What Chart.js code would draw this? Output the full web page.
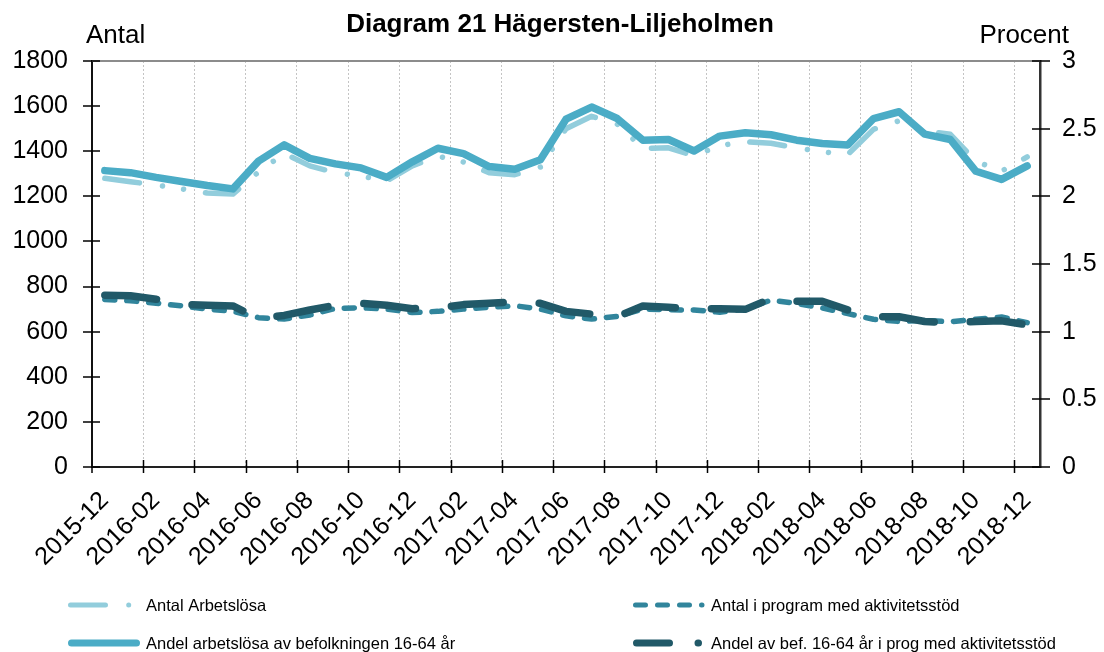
<!DOCTYPE html>
<html>
<head>
<meta charset="utf-8">
<style>
  html, body { margin: 0; padding: 0; background: #fff; }
  canvas { display: block; }
</style>
<script src="https://cdn.jsdelivr.net/npm/chart.js@4/dist/chart.umd.min.js"></script>
</head>
<body>
<canvas id="chart" width="1104" height="652"></canvas>
<script>
// months on the x axis
const months = [
  "2015-12", "2016-01", "2016-02", "2016-03", "2016-04", "2016-05", "2016-06", "2016-07",
  "2016-08", "2016-09", "2016-10", "2016-11", "2016-12", "2017-01", "2017-02", "2017-03",
  "2017-04", "2017-05", "2017-06", "2017-07", "2017-08", "2017-09", "2017-10", "2017-11",
  "2017-12", "2018-01", "2018-02", "2018-03", "2018-04", "2018-05", "2018-06", "2018-07",
  "2018-08", "2018-09", "2018-10", "2018-11", "2018-12"
];

// left axis (Antal)
const antalArbetslosa = [
  1280, 1265, 1250, 1233, 1215, 1210, 1308, 1390, 1335, 1305, 1290, 1268, 1335, 1378, 1352, 1305,
  1296, 1330, 1500, 1555, 1520, 1413, 1415, 1380, 1425, 1442, 1435, 1415, 1397, 1386, 1497, 1535,
  1490, 1475, 1355, 1312, 1375
];
const antalProgram = [
  743, 737, 726, 714, 700, 690, 662, 656, 674, 703, 706, 700, 685, 690, 700, 708,
  715, 700, 670, 656, 668, 700, 697, 696, 686, 700, 740, 725, 705, 680, 655, 645,
  650, 644, 655, 665, 640
];

// right axis (Procent)
const andelArbetslosa = [
  2.19, 2.175, 2.14, 2.11, 2.08, 2.055, 2.26, 2.38, 2.28, 2.24, 2.21, 2.14, 2.255, 2.355, 2.315, 2.22,
  2.2, 2.27, 2.57, 2.66, 2.575, 2.415, 2.42, 2.335, 2.445, 2.47, 2.455, 2.415, 2.39, 2.38, 2.575, 2.625,
  2.46, 2.42, 2.185, 2.125, 2.225
];
const andelProgram = [
  1.27, 1.265, 1.24, 1.2, 1.195, 1.19, 1.097, 1.12, 1.16, 1.195, 1.21, 1.195, 1.17, 1.175, 1.2, 1.21,
  1.22, 1.21, 1.15, 1.13, 1.11, 1.19, 1.18, 1.17, 1.17, 1.165, 1.245, 1.225, 1.225, 1.16, 1.11, 1.11,
  1.075, 1.065, 1.075, 1.08, 1.05
];

const leftTicks = { min: 0, max: 1800, step: 200 };
const rightTicks = { min: 0, max: 3, step: 0.5 };

const FONT = "'Liberation Sans', Arial, sans-serif";
Chart.defaults.font.family = FONT;
Chart.defaults.color = "#000";

const cLight = "#92cddc";
const cTeal = "#31859c";
const cBlue = "#4bacc6";
const cDark = "#215968";

// legend layout, two columns
const legendItems = [
  { text: "Antal Arbetslösa", color: cLight, width: 5, dash: [35, 23.2, 0.01, 21.3, 0.01, 22.2], x: 70.5, x2: 129, y: 605 },
  { text: "Antal i program med aktivitetsstöd", color: cTeal, width: 5, dash: [10, 12], x: 635.5, x2: 702, y: 605 },
  { text: "Andel arbetslösa av befolkningen 16-64 år", color: cBlue, width: 7, dash: [], x: 71.5, x2: 136.5, y: 643 },
  { text: "Andel av bef. 16-64 år i prog med aktivitetsstöd", color: cDark, width: 7, dash: [33, 28.5], x: 636.5, x2: 698.5, y: 643 }
];

function seg(ctx, x1, y1, x2, y2) {
  ctx.beginPath();
  ctx.moveTo(x1, y1);
  ctx.lineTo(x2, y2);
  ctx.stroke();
}

const decor = {
  id: "decor",
  afterDraw(chart) {
    const ctx = chart.ctx;
    const a = chart.chartArea;
    const sx = chart.scales.x, sy = chart.scales.y, sy1 = chart.scales.y1;
    ctx.save();

    // top frame line
    ctx.strokeStyle = "#8c8c8c";
    ctx.lineWidth = 2;
    seg(ctx, a.left, a.top, a.right, a.top);

    // crossing tick marks
    ctx.strokeStyle = "#000";
    ctx.lineWidth = 1.5;
    sy.ticks.forEach(t => {
      const y = Math.round(sy.getPixelForValue(t.value));
      seg(ctx, a.left - 9, y, a.left + 8, y);
    });
    sy1.ticks.forEach(t => {
      const y = Math.round(sy1.getPixelForValue(t.value));
      seg(ctx, a.right - 8, y, a.right + 10, y);
    });
    const half = (sx.getPixelForValue(1) - sx.getPixelForValue(0)) / 2;
    seg(ctx, a.left, a.bottom, a.left, a.bottom + 6);
    for (let i = 2; i < months.length; i += 2) {
      const x = Math.round(sx.getPixelForValue(i) - half) + 0.5;
      seg(ctx, x, a.bottom - 7, x, a.bottom + 6);
    }

    // titles
    ctx.fillStyle = "#000";
    ctx.textBaseline = "alphabetic";
    ctx.font = "bold 26px " + FONT;
    ctx.textAlign = "center";
    ctx.fillText("Diagram 21 Hägersten-Liljeholmen", 560, 32);
    ctx.font = "26px " + FONT;
    ctx.textAlign = "left";
    ctx.fillText("Antal", 86, 43);
    ctx.textAlign = "right";
    ctx.fillText("Procent", 1069, 43);

    // legend
    ctx.font = "16.5px " + FONT;
    ctx.textAlign = "left";
    legendItems.forEach(it => {
      ctx.strokeStyle = it.color;
      ctx.lineWidth = it.width;
      ctx.lineCap = "round";
      ctx.setLineDash(it.dash);
      seg(ctx, it.x, it.y, it.x2, it.y);
      ctx.setLineDash([]);
      const tx = it.x < 300 ? 146 : 711;
      ctx.fillText(it.text, tx, it.y + 6);
    });
    ctx.restore();
  }
};

const lineBase = {
  pointRadius: 0,
  pointHoverRadius: 0,
  tension: 0,
  fill: false,
  borderCapStyle: "round",
  borderJoinStyle: "round"
};

new Chart(document.getElementById("chart"), {
  type: "line",
  data: {
    labels: months,
    datasets: [
      Object.assign({}, lineBase, {
        label: "Andel arbetslösa av befolkningen 16-64 år",
        data: andelArbetslosa, yAxisID: "y1",
        borderColor: cBlue, borderWidth: 7.5, order: 0
      }),
      Object.assign({}, lineBase, {
        label: "Andel av bef. 16-64 år i prog med aktivitetsstöd",
        data: andelProgram, yAxisID: "y1",
        borderColor: cDark, borderWidth: 7.5, borderDash: [52, 36], order: 1
      }),
      Object.assign({}, lineBase, {
        label: "Antal Arbetslösa",
        data: antalArbetslosa, yAxisID: "y",
        borderColor: cLight, borderWidth: 5.5,
        borderDash: [35, 23.2, 0.01, 21.3, 0.01, 22.2], order: 2
      }),
      Object.assign({}, lineBase, {
        label: "Antal i program med aktivitetsstöd",
        data: antalProgram, yAxisID: "y",
        borderColor: cTeal, borderWidth: 5.5, borderDash: [10, 12], order: 3
      })
    ]
  },
  options: {
    responsive: false,
    animation: false,
    devicePixelRatio: 1,
    layout: { padding: { top: 61, bottom: 85, left: 0, right: 0 } },
    plugins: {
      legend: { display: false },
      title: { display: false },
      tooltip: { enabled: false }
    },
    scales: {
      x: {
        type: "category",
        offset: true,
        grid: {
          offset: true,
          drawTicks: false,
          lineWidth: 1,
          color: ctx => (ctx.index > 0 && ctx.index < months.length && ctx.index % 2 === 0) ? "#c4c4c4" : "rgba(0,0,0,0)"
        },
        border: { display: true, color: "#222", width: 2, dash: [2, 2] },
        ticks: {
          autoSkip: false,
          maxRotation: 45,
          minRotation: 45,
          padding: 19,
          font: { size: 25 },
          color: "#000",
          callback: function (val, idx) {
            return idx % 2 === 0 ? this.getLabelForValue(val) : "";
          }
        },
        afterFit: s => { s.height = 100; }
      },
      y: {
        position: "left",
        min: leftTicks.min,
        max: leftTicks.max,
        grid: { display: false, drawTicks: false },
        border: { display: true, color: "#111", width: 2 },
        ticks: {
          stepSize: leftTicks.step,
          padding: 24,
          font: { size: 25 },
          color: "#000",
          callback: v => String(v)
        },
        afterFit: s => { s.width = 92; }
      },
      y1: {
        position: "right",
        min: rightTicks.min,
        max: rightTicks.max,
        grid: { display: false, drawTicks: false },
        border: { display: true, color: "#333", width: 2.5 },
        ticks: {
          stepSize: rightTicks.step,
          padding: 22,
          font: { size: 25 },
          color: "#000",
          callback: v => String(v)
        },
        afterFit: s => { s.width = 64; }
      }
    }
  },
  plugins: [decor]
});
</script>
</body>
</html>
